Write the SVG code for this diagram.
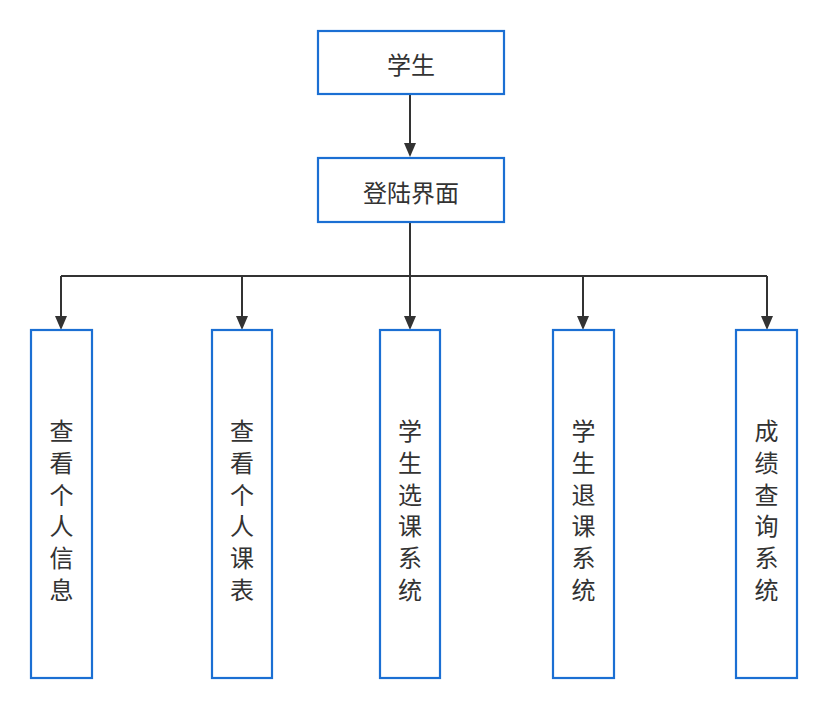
<svg xmlns="http://www.w3.org/2000/svg" width="828" height="712" viewBox="0 0 828 712">
<style>
.box{fill:#fff;stroke:#1b6fd3;stroke-width:2.2}
.t{font-family:"Noto Sans CJK SC","Noto Sans",sans-serif;font-size:24px;fill:#333;text-anchor:middle;dominant-baseline:central}
.c{fill:none;stroke:#333;stroke-width:2}
</style>
<rect width="828" height="712" fill="#fff"/>
<g id="connectors">
<path class="c" d="M410,95 V144"/>
<path d="M404,143 L416,143 L410,157 Z" fill="#333"/>
<path class="c" d="M410,223 V276 M61,276 H767 M61,276 V317 M242,276 V317 M410,276 V317 M583,276 V317 M767,276 V317"/>
<path d="M55,316 L67,316 L61,330 Z M236,316 L248,316 L242,330 Z M404,316 L416,316 L410,330 Z M577,316 L589,316 L583,330 Z M761,316 L773,316 L767,330 Z" fill="#333"/>
</g>
<g id="n1"><rect class="box" x="318" y="31" width="186" height="63"/><text class="t" x="411" y="63">学生</text></g>
<g id="n2"><rect class="box" x="318" y="158" width="186" height="64"/><text class="t" x="411" y="191">登陆界面</text></g>
<g id="n3"><rect class="box" x="31" y="330" width="61" height="348"/>
<text class="t"><tspan x="61.5" y="429">查</tspan><tspan x="61.5" y="460.8">看</tspan><tspan x="61.5" y="492.6">个</tspan><tspan x="61.5" y="524.4">人</tspan><tspan x="61.5" y="556.2">信</tspan><tspan x="61.5" y="588">息</tspan></text></g>
<g id="n4"><rect class="box" x="212" y="330" width="60" height="348"/>
<text class="t"><tspan x="242" y="429">查</tspan><tspan x="242" y="460.8">看</tspan><tspan x="242" y="492.6">个</tspan><tspan x="242" y="524.4">人</tspan><tspan x="242" y="556.2">课</tspan><tspan x="242" y="588">表</tspan></text></g>
<g id="n5"><rect class="box" x="380" y="330" width="60" height="348"/>
<text class="t"><tspan x="410" y="429">学</tspan><tspan x="410" y="460.8">生</tspan><tspan x="410" y="492.6">选</tspan><tspan x="410" y="524.4">课</tspan><tspan x="410" y="556.2">系</tspan><tspan x="410" y="588">统</tspan></text></g>
<g id="n6"><rect class="box" x="553" y="330" width="61" height="348"/>
<text class="t"><tspan x="583.5" y="429">学</tspan><tspan x="583.5" y="460.8">生</tspan><tspan x="583.5" y="492.6">退</tspan><tspan x="583.5" y="524.4">课</tspan><tspan x="583.5" y="556.2">系</tspan><tspan x="583.5" y="588">统</tspan></text></g>
<g id="n7"><rect class="box" x="736" y="330" width="61" height="348"/>
<text class="t"><tspan x="766.5" y="429">成</tspan><tspan x="766.5" y="460.8">绩</tspan><tspan x="766.5" y="492.6">查</tspan><tspan x="766.5" y="524.4">询</tspan><tspan x="766.5" y="556.2">系</tspan><tspan x="766.5" y="588">统</tspan></text></g>
</svg>
